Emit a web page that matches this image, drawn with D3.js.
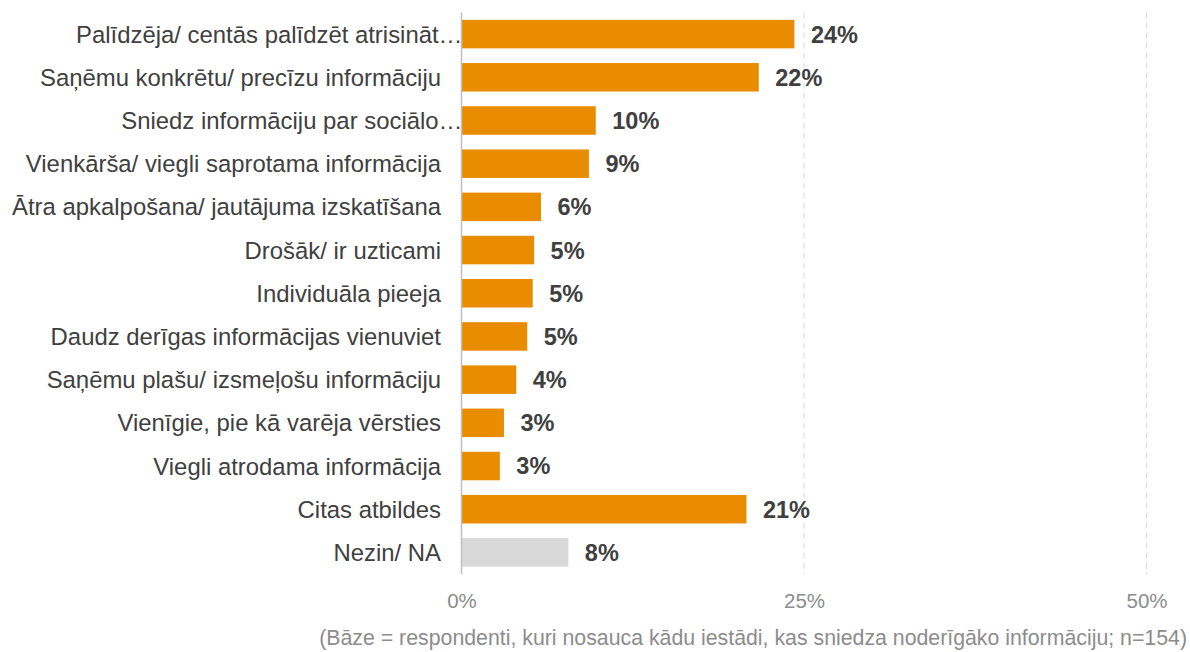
<!DOCTYPE html>
<html>
<head>
<meta charset="utf-8">
<script src="https://cdn.jsdelivr.net/npm/d3@7"></script>
<style>
  html, body { margin: 0; padding: 0; background: #fff; }
  svg { display: block; font-family: "Liberation Sans", Arial, sans-serif; }
</style>
</head>
<body>
<svg id="chart" width="1190" height="652"></svg>
<script>
// Reasons the institution's information was the most useful (% of respondents)
const categories = [
  "Palīdzēja/ centās palīdzēt atrisināt…",
  "Saņēmu konkrētu/ precīzu informāciju",
  "Sniedz informāciju par sociālo…",
  "Vienkārša/ viegli saprotama informācija",
  "Ātra apkalpošana/ jautājuma izskatīšana",
  "Drošāk/ ir uzticami",
  "Individuāla pieeja",
  "Daudz derīgas informācijas vienuviet",
  "Saņēmu plašu/ izsmeļošu informāciju",
  "Vienīgie, pie kā varēja vērsties",
  "Viegli atrodama informācija",
  "Citas atbildes",
  "Nezin/ NA"
];
const values = [24.3, 21.7, 9.8, 9.3, 5.8, 5.3, 5.2, 4.8, 4.0, 3.1, 2.8, 20.8, 7.8];
const valueLabels = ["24%", "22%", "10%", "9%", "6%", "5%", "5%", "5%", "4%", "3%", "3%", "21%", "8%"];
const tickValues = [0, 25, 50];
const footnote = "(Bāze = respondenti, kuri nosauca kādu iestādi, kas sniedza noderīgāko informāciju; n=154)";

const svg = d3.select("#chart");

const x = d3.scaleLinear().domain([0, 50]).range([461.5, 1146.5]);
const y = d3.scaleBand().domain(categories).range([12.5, 574]).paddingInner(0.34).paddingOuter(0.17);

// dashed gridlines
svg.append("g")
  .selectAll("line")
  .data(tickValues.filter(d => d > 0))
  .join("line")
  .attr("x1", d => x(d)).attr("x2", d => x(d))
  .attr("y1", 12.5).attr("y2", 574)
  .attr("stroke", "#d9d9d9")
  .attr("stroke-width", 1)
  .attr("stroke-dasharray", "6,4");

// bars
svg.append("g")
  .selectAll("rect")
  .data(categories)
  .join("rect")
  .attr("x", x(0))
  .attr("y", d => y(d))
  .attr("height", y.bandwidth())
  .attr("width", (d, i) => x(values[i]) - x(0))
  .attr("fill", d => d === "Nezin/ NA" ? "#d9d9d9" : "#ea8c00");

// value axis line at 0
svg.append("line")
  .attr("x1", x(0)).attr("x2", x(0))
  .attr("y1", 12.5).attr("y2", 574)
  .attr("stroke", "#bfbfbf")
  .attr("stroke-width", 1.5);

// category labels
svg.append("g")
  .selectAll("text")
  .data(categories)
  .join("text")
  .attr("x", d => d.endsWith("…") ? x(0) + 1 : 441)
  .attr("y", d => y(d) + y.bandwidth() / 2)
  .attr("dy", "0.36em")
  .attr("text-anchor", "end")
  .attr("font-size", 23.9)
  .attr("fill", "#404040")
  .text(d => d);

// value labels
svg.append("g")
  .selectAll("text")
  .data(categories)
  .join("text")
  .attr("x", (d, i) => x(values[i]) + 16.5)
  .attr("y", d => y(d) + y.bandwidth() / 2)
  .attr("dy", "0.36em")
  .attr("font-size", 23.5)
  .attr("font-weight", "bold")
  .attr("fill", "#404040")
  .text((d, i) => valueLabels[i]);

// x axis tick labels
const xAxis = d3.axisBottom(x)
  .tickValues(tickValues)
  .tickFormat(d => d + "%")
  .tickSize(0)
  .tickPadding(0);
const gx = svg.append("g").attr("transform", "translate(0,593)").call(xAxis);
gx.select(".domain").remove();
gx.selectAll("text")
  .attr("font-size", 20.5)
  .attr("font-family", "Liberation Sans, Arial, sans-serif")
  .attr("fill", "#8c8c8c");

// base note
svg.append("text")
  .attr("x", 1187)
  .attr("y", 645)
  .attr("text-anchor", "end")
  .attr("font-size", 21.3)
  .attr("fill", "#8c8c8c")
  .text(footnote);
</script>
</body>
</html>
